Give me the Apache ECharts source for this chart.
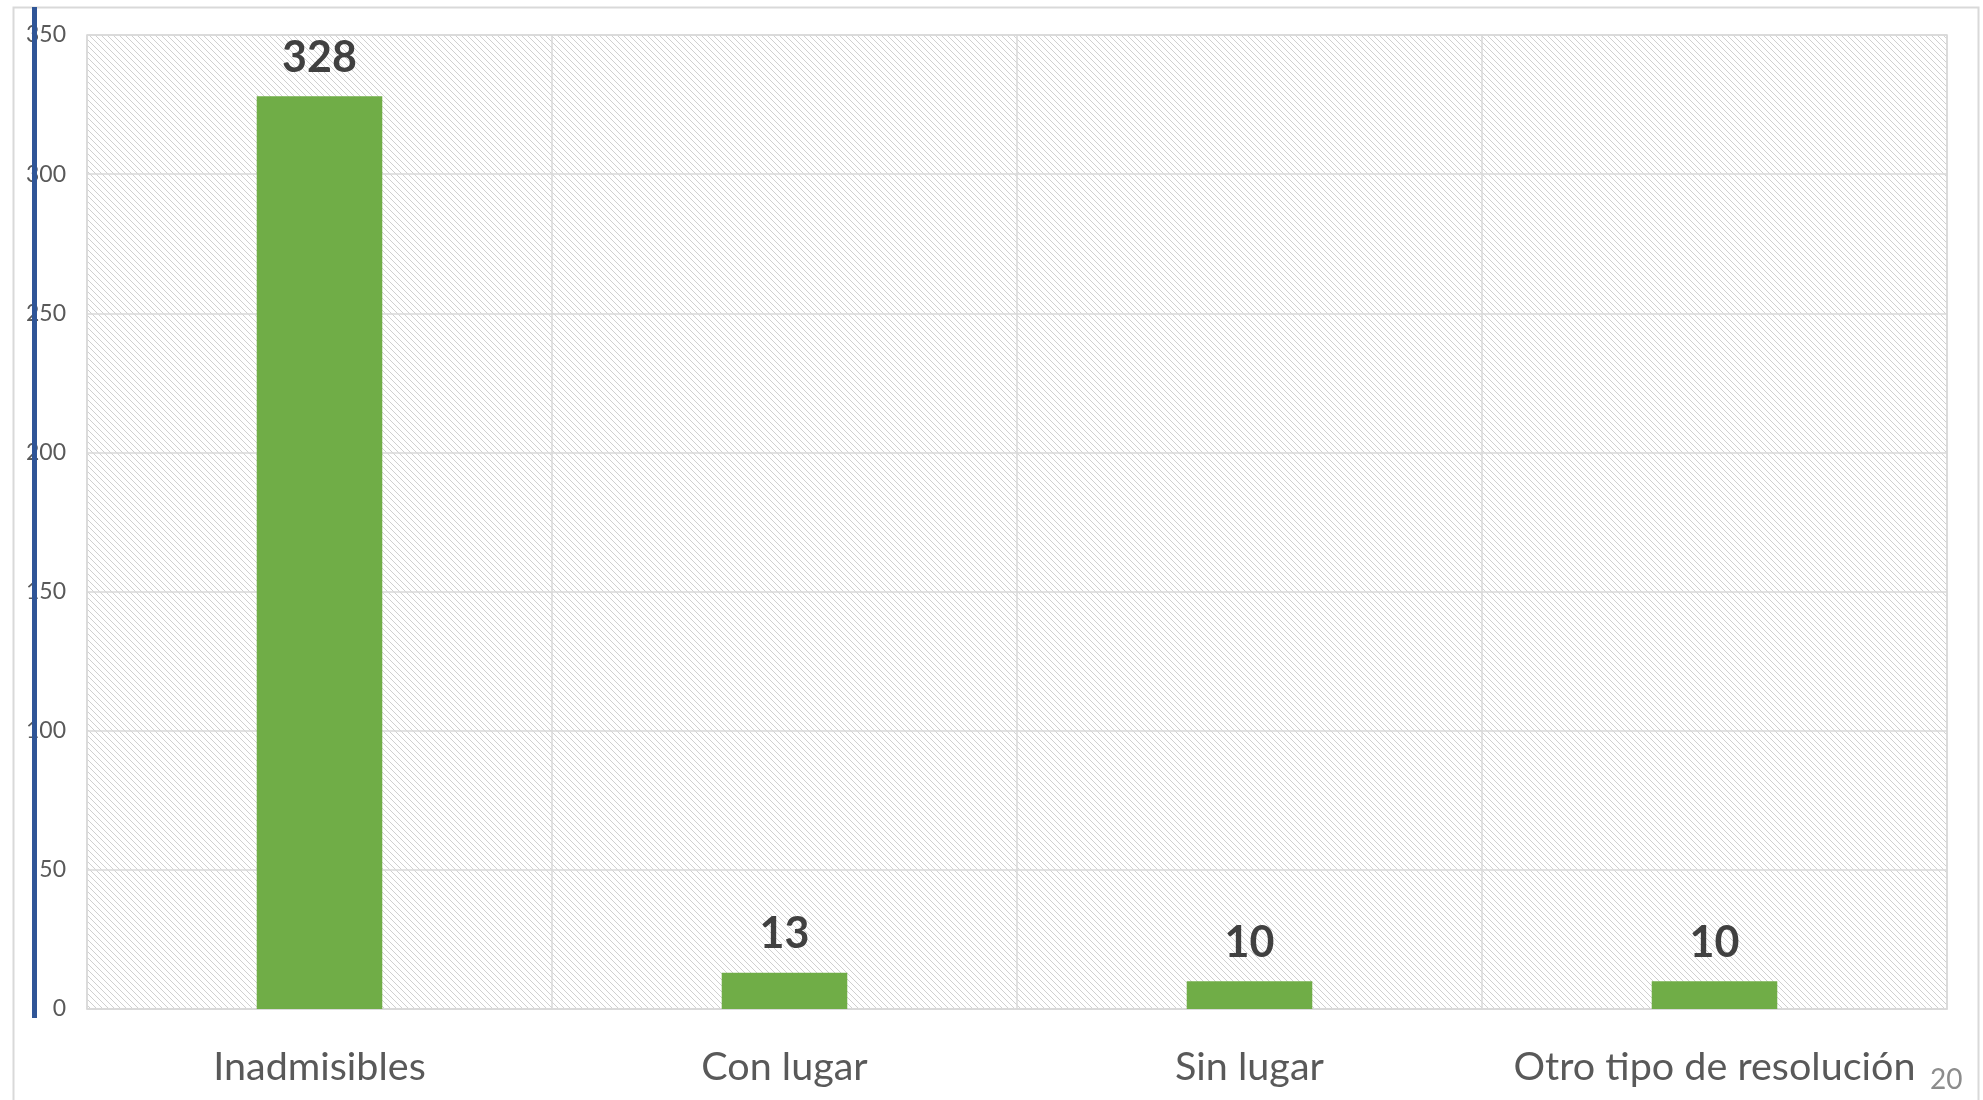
<!DOCTYPE html>
<html>
<head>
<meta charset="utf-8">
<script src="https://cdn.jsdelivr.net/npm/echarts@6/dist/echarts.min.js"></script>
<style>
  html, body { margin: 0; padding: 0; background: #fff; }
  #chart { width: 1983px; height: 1100px; }
</style>
</head>
<body>
<div id="chart"></div>
<script>
var categories = ["Inadmisibles", "Con lugar", "Sin lugar", "Otro tipo de resolución"];
var values = [328, 13, 10, 10];
var yTicks = [0, 50, 100, 150, 200, 250, 300, 350];

// fondo rayado del area de trazado
var tile = document.createElement("canvas");
tile.width = 6;
tile.height = 6;
var ctx = tile.getContext("2d");
ctx.fillStyle = "#fff";
ctx.fillRect(0, 0, 6, 6);
ctx.fillStyle = "#d0d0d0";
for (var i = 0; i < 6; i++) {
  ctx.fillRect(i, i, 1, 1);
}

var chart = echarts.init(document.getElementById("chart"));

var option = {
  backgroundColor: "#fff",
  textStyle: { fontFamily: "Lato" },
  grid: {
    left: 87,
    right: 36,
    top: 35,
    bottom: 91,
    show: true,
    backgroundColor: { image: tile, repeat: "repeat" },
    borderColor: "#d9d9d9",
    borderWidth: 1.5,
  },
  xAxis: {
    type: "category",
    data: categories,
    axisLine: { show: true, lineStyle: { color: "#d9d9d9", width: 1.5 } },
    axisTick: { show: false },
    axisLabel: {
      interval: 0,
      fontSize: 39.5,
      color: "#595959",
      margin: 38,
      fontFamily: "Lato",
    },
    splitLine: { show: true, interval: 0, lineStyle: { color: "#d9d9d9", width: 1.5 } },
  },
  yAxis: {
    type: "value",
    min: yTicks[0],
    max: yTicks[yTicks.length - 1],
    interval: 50,
    axisLine: { show: false },
    axisTick: { show: false },
    axisLabel: {
      fontSize: 23,
      color: "#595959",
      margin: 21,
      fontFamily: "Lato",
    },
    splitLine: { show: true, lineStyle: { color: "#d9d9d9", width: 1.5 } },
  },
  series: [
    {
      type: "bar",
      data: values,
      barWidth: "27%",
      itemStyle: { color: "#70ad47" },
      label: {
        show: true,
        position: "top",
        distance: 17,
        fontSize: 43,
        fontWeight: "bold",
        color: "#404040",
        fontFamily: "Lato",
      },
    },
  ],
  graphic: [
    {
      type: "rect",
      left: 11,
      top: 5,
      shape: { width: 1965, height: 1110 },
      style: { fill: "none", stroke: "#d9d9d9", lineWidth: 2 },
      z: 10,
    },
    {
      type: "rect",
      left: 32,
      top: 7,
      shape: { width: 5, height: 1011 },
      style: { fill: "#2f5597" },
      z: 20,
    },
    {
      type: "text",
      left: 1930,
      top: 1066,
      style: { text: "20", fontSize: 28, fill: "#8c8c8c", fontFamily: "Lato" },
      z: 20,
    },
  ],
};

chart.setOption(option);
window.addEventListener("resize", function () {
  chart.resize();
});
</script>
</body>
</html>
